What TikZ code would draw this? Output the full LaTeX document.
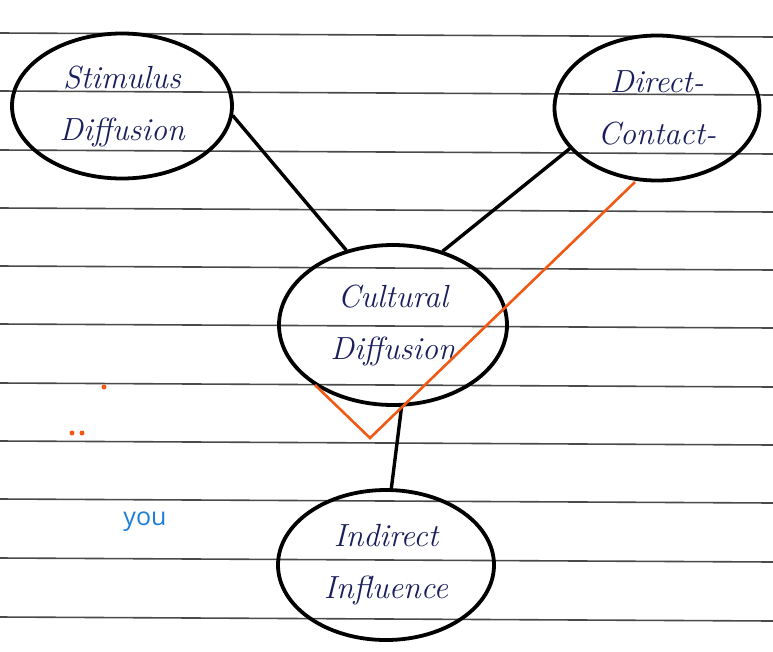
\documentclass[tikz,border=0pt]{standalone}
\usepackage{fontspec}
\newfontfamily\youfont{Open Sans}
\usetikzlibrary{shapes.geometric}
\definecolor{ink}{HTML}{1A1F5C}
\definecolor{rule}{HTML}{4A4A4A}
\definecolor{tick}{HTML}{F05A14}
\definecolor{youblue}{HTML}{1E7FD8}
\tikzset{
  bubble/.style={ellipse, draw=black, line width=3.8pt, inner sep=0pt, align=center,
    font=\itshape\fontsize{32}{52}\selectfont, text=ink},
  link/.style={draw=black, line width=3.4pt, line cap=round},
  ruling/.style={draw=rule, line width=1.6pt},
  check/.style={draw=tick, line width=2.6pt},
  dot/.style={circle, fill=tick, inner sep=0pt, minimum size=5pt}
}
\begin{document}
\begin{tikzpicture}[x=1pt,y=-1pt]
\useasboundingbox (0,0) rectangle (773,651);
\fill[white] (0,0) rectangle (773,651);
% ruled lines
\foreach \y in {33,91,150,208,266,324,383,441,499,558,617}
  \draw[ruling] (0,\y) -- (773,\y+4);
% nodes
\node[bubble, minimum width=220pt, minimum height=145pt] (stim) at (122,106) {Stimulus\\Diffusion};
\node[bubble, minimum width=205pt, minimum height=145pt] (dir) at (657,108) {Direct-\\Contact-};
\node[bubble, minimum width=228pt, minimum height=160pt] (cult) at (393,325) {Cultural\\Diffusion};
\node[bubble, minimum width=216pt, minimum height=150pt] (ind) at (386,565) {Indirect\\Influence};
% connectors
\draw[link] (stim.-5) -- (cult.122);
\draw[link] (dir.-155) -- (cult.56);
\draw[link] (cult.-84) -- (ind.86);
% orange check mark
\coordinate (c1) at (315,385);
\coordinate (c2) at (370,438);
\coordinate (c3) at (635,182);
\draw[check] (c1) -- (c2) -- (c3);
% dots
\node[dot] (d1) at (104,387) {};
\node[dot] (d2) at (72,433) {};
\node[dot] (d3) at (82,433) {};
\node[text=youblue, font=\youfont\fontsize{25}{28}\selectfont] (you) at (145,522) {you};
\end{tikzpicture}
\end{document}
